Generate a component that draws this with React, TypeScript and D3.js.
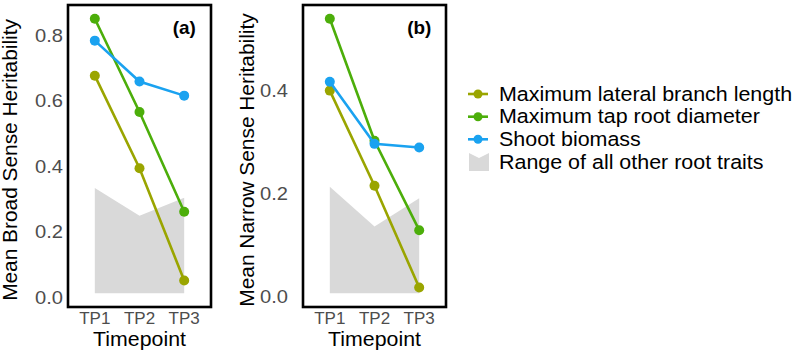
import React from "react"
import * as d3 from "d3"

const timepoints = ["TP1", "TP2", "TP3"]

// panel (a): broad sense heritability
const broadLateral = [0.678, 0.395, 0.052]
const broadTapRoot = [0.852, 0.567, 0.262]
const broadShoot = [0.785, 0.66, 0.617]
const broadRangeLow = [0.013, 0.013, 0.013]
const broadRangeHigh = [0.335, 0.25, 0.305]

// panel (b): narrow sense heritability
const narrowLateral = [0.4, 0.216, 0.019]
const narrowTapRoot = [0.539, 0.303, 0.13]
const narrowShoot = [0.417, 0.297, 0.29]
const narrowRangeLow = [0.008, 0.008, 0.008]
const narrowRangeHigh = [0.214, 0.137, 0.192]

const broadTicks = [0.0, 0.2, 0.4, 0.6, 0.8]
const narrowTicks = [0.0, 0.2, 0.4]

const seriesNames = ["Maximum lateral branch length", "Maximum tap root diameter", "Shoot biomass"]
const rangeName = "Range of all other root traits"
const colors = ["#9aa500", "#4cae0a", "#1aa2f0"]
const rangeColor = "#d9d9d9"

const font = "'Liberation Sans', Arial, Helvetica, sans-serif"

// the source image is a bit wider than tall, so text gets a small horizontal stretch
const Txt = ({x, y, sx = 1, rotate = 0, children, ...rest}: any) => (
    <text transform={`translate(${x},${y}) rotate(${rotate}) scale(${sx},1)`} fontFamily={font} {...rest}>{children}</text>
)

type PanelProps = {
    left: number
    label: string
    yTitle: string
    titleX: number
    tickRight: number
    series: number[][]
    low: number[]
    high: number[]
    ticks: number[]
}

const top = 5, bottom = 307, panelW = 143

const Panel = ({left, label, yTitle, titleX, tickRight, series, low, high, ticks}: PanelProps) => {
    const x = d3.scalePoint<string>().domain(timepoints).range([left, left + panelW]).padding(0.6)

    const all = [...series.flat(), ...low, ...high]
    const [mn, mx] = d3.extent(all) as [number, number]
    const pad = (mx - mn) * 0.05
    const y = d3.scaleLinear().domain([mn - pad, mx + pad]).range([bottom, top])

    const area = d3.area<number>()
        .x((_, i) => x(timepoints[i])!)
        .y0((_, i) => y(low[i]))
        .y1(d => y(d))

    const line = d3.line<number>()
        .x((_, i) => x(timepoints[i])!)
        .y(d => y(d))

    return (
        <g>
            <path d={area(high)!} fill={rangeColor} />
            {series.map((s, k) => (
                <g key={k}>
                    <path d={line(s)!} fill="none" stroke={colors[k]} strokeWidth={2.6} />
                    {s.map((v, i) => (
                        <circle key={i} cx={x(timepoints[i])} cy={y(v)} r={5} fill={colors[k]} />
                    ))}
                </g>
            ))}
            <rect x={left} y={top} width={panelW} height={bottom - top} fill="none" stroke="#000" strokeWidth={2.6} />
            <Txt x={x("TP3")} y={33.5} sx={1.05} textAnchor="middle" fontWeight="bold" fontSize={18}>{label}</Txt>
            {ticks.map(t => (
                <Txt key={t} x={tickRight} y={y(t) + 6} sx={1.15} textAnchor="end" fontSize={17.5} fill="#4d4d4d">
                    {t.toFixed(1)}
                </Txt>
            ))}
            {timepoints.map(tp => (
                <Txt key={tp} x={x(tp)} y={324} textAnchor="middle" fontSize={17} fill="#4d4d4d">{tp}</Txt>
            ))}
            <Txt x={left + panelW / 2} y={346} sx={1.04} textAnchor="middle" fontSize={20.5}>Timepoint</Txt>
            <Txt x={titleX} y={(top + bottom) / 2 + 4} rotate={-90} sx={1.07} textAnchor="middle" fontSize={19.5}>
                {yTitle}
            </Txt>
        </g>
    )
}

const App = () => {
    const legendY = [94, 116.7, 139.3]
    return (
        <svg width={800} height={353} style={{position: "absolute", left: 0, top: 0, background: "#fff"}}>
            <Panel left={68} label="(a)" yTitle="Mean Broad Sense Heritability" titleX={16.5} tickRight={63}
                series={[broadLateral, broadTapRoot, broadShoot]} low={broadRangeLow} high={broadRangeHigh} ticks={broadTicks} />
            <Panel left={303} label="(b)" yTitle="Mean Narrow Sense Heritability" titleX={254} tickRight={288}
                series={[narrowLateral, narrowTapRoot, narrowShoot]} low={narrowRangeLow} high={narrowRangeHigh} ticks={narrowTicks} />
            <g>
                {seriesNames.map((name, k) => (
                    <g key={name}>
                        <line x1={468} x2={488} y1={legendY[k]} y2={legendY[k]} stroke={colors[k]} strokeWidth={2.6} />
                        <circle cx={478} cy={legendY[k]} r={4.5} fill={colors[k]} />
                        <Txt x={499} y={legendY[k] + 6.7} sx={1.1} fontSize={19.5}>{name}</Txt>
                    </g>
                ))}
                <polygon points="469,153 479,158 489,153 489,171 469,171" fill={rangeColor} />
                <Txt x={499} y={168.5} sx={1.1} fontSize={19.5}>{rangeName}</Txt>
            </g>
        </svg>
    )
}

export default App
